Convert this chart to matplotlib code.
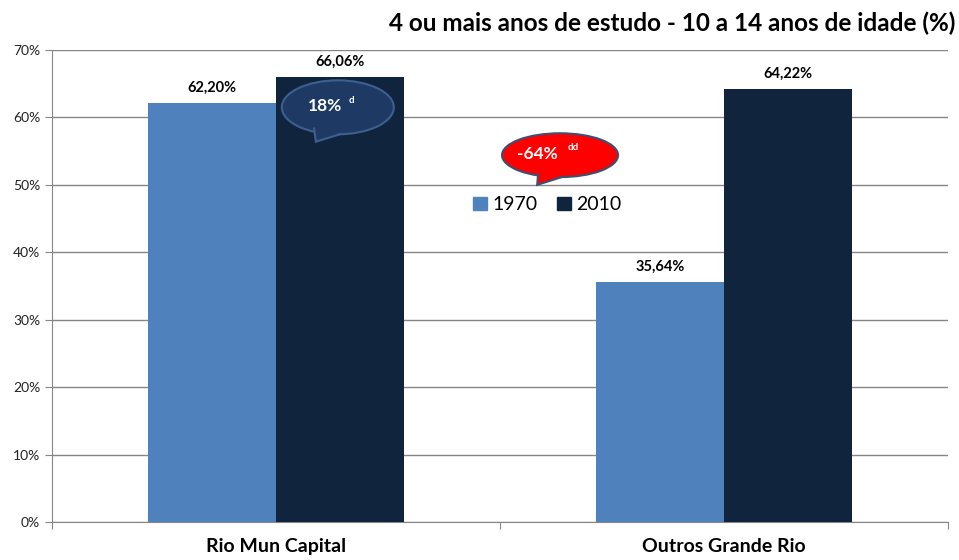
import matplotlib.pyplot as plt
from matplotlib.patches import Ellipse, Polygon, Rectangle
import numpy as np

plt.rcParams['font.family'] = ['Lato', 'DejaVu Sans']

categories = ['Rio Mun Capital', 'Outros Grande Rio']
years = ['1970', '2010']
values_1970 = [62.20, 35.64]
values_2010 = [66.06, 64.22]
yticks = [0, 10, 20, 30, 40, 50, 60, 70]
colors = ['#4f81bd', '#10243e']

fig = plt.figure(figsize=(9.59, 5.6), dpi=100)
ax = fig.add_axes([52 / 959, 38 / 560, 896 / 959, 472 / 560])

x = np.arange(len(categories))
w = 0.2857
b1 = ax.bar(x - w / 2, values_1970, w, color=colors[0], zorder=3)
b2 = ax.bar(x + w / 2, values_2010, w, color=colors[1], zorder=3)

for bars, vals in [(b1, values_1970), (b2, values_2010)]:
    for bar, v in zip(bars, vals):
        ax.text(bar.get_x() + bar.get_width() / 2, v + 1.2,
                f'{v:.2f}%'.replace('.', ','), ha='center', va='bottom',
                fontsize=10.5, fontweight='bold', color='black')

ax.set_xlim(-0.5, 1.5)
ax.set_ylim(0, 70)
ax.set_yticks(yticks)
ax.set_yticklabels([f'{t}%' for t in yticks], fontsize=10, color='#222222')
ax.set_xticks([-0.5, 0.5, 1.5])
ax.set_xticklabels([])
ax.tick_params(axis='x', length=5, color='#868686', direction='out')
ax.tick_params(axis='y', length=5, color='#868686', direction='out')
for i, c in enumerate(categories):
    ax.text(x[i], -2.4, c, ha='center', va='top', fontsize=14,
            fontweight='bold', color='black')

ax.grid(axis='y', color='#868686', linewidth=1, zorder=0)
for s in ['top', 'right']:
    ax.spines[s].set_visible(False)
ax.spines['left'].set_color('#868686')
ax.spines['bottom'].set_color('#868686')


def callout(cx, cy, ew, eh, tail, face, edge, label, lab_xy, sup, sup_xy):
    # ellipse, then tail fill over its edge, then the two tail sides
    (x0, y0), (x1, y1), (tx, ty) = tail
    ax.add_patch(Ellipse((cx, cy), ew, eh, facecolor=face, edgecolor=edge,
                         linewidth=1.5, zorder=5))
    ax.add_patch(Polygon([(x0, y0), (x1, y1), (tx, ty)], closed=True,
                         facecolor=face, edgecolor='none', zorder=6))
    ax.plot([x0, tx, x1], [y0, ty, y1], color=edge, linewidth=1.5, zorder=7,
            solid_joinstyle='miter')
    ax.text(lab_xy[0], lab_xy[1], label, ha='left', va='center', fontsize=12.5,
            fontweight='bold', color='white', zorder=8)
    ax.text(sup_xy[0], sup_xy[1], sup, ha='left', va='center', fontsize=7,
            fontweight='bold', color='white', zorder=8)


callout(0.138, 61.5, 0.25, 8.0,
        [(0.085, 58.35), (0.145, 57.55), (0.089, 56.4)],
        '#1e3a64', '#3d5f8f', '18%', (0.071, 61.7), 'd', (0.163, 62.5))
callout(0.634, 54.4, 0.259, 6.5,
        [(0.585, 51.6), (0.64, 51.2), (0.583, 50.0)],
        '#ff0000', '#3d5070', '-64%', (0.538, 54.6), 'dd', (0.65, 55.6))

handles = [Rectangle((0, 0), 1, 1, color=c) for c in colors]
ax.legend(handles, years, loc='center', bbox_to_anchor=(0.553, 0.672),
          frameon=False, fontsize=14, handlelength=0.7, handleheight=0.7,
          handletextpad=0.3, columnspacing=1.0, ncol=2)

fig.text(0.996, 0.958, '4 ou mais anos de estudo - 10 a 14 anos de idade (%)',
         ha='right', va='center', fontsize=17.5, fontweight='bold')

fig.savefig('out.png', dpi=100)
